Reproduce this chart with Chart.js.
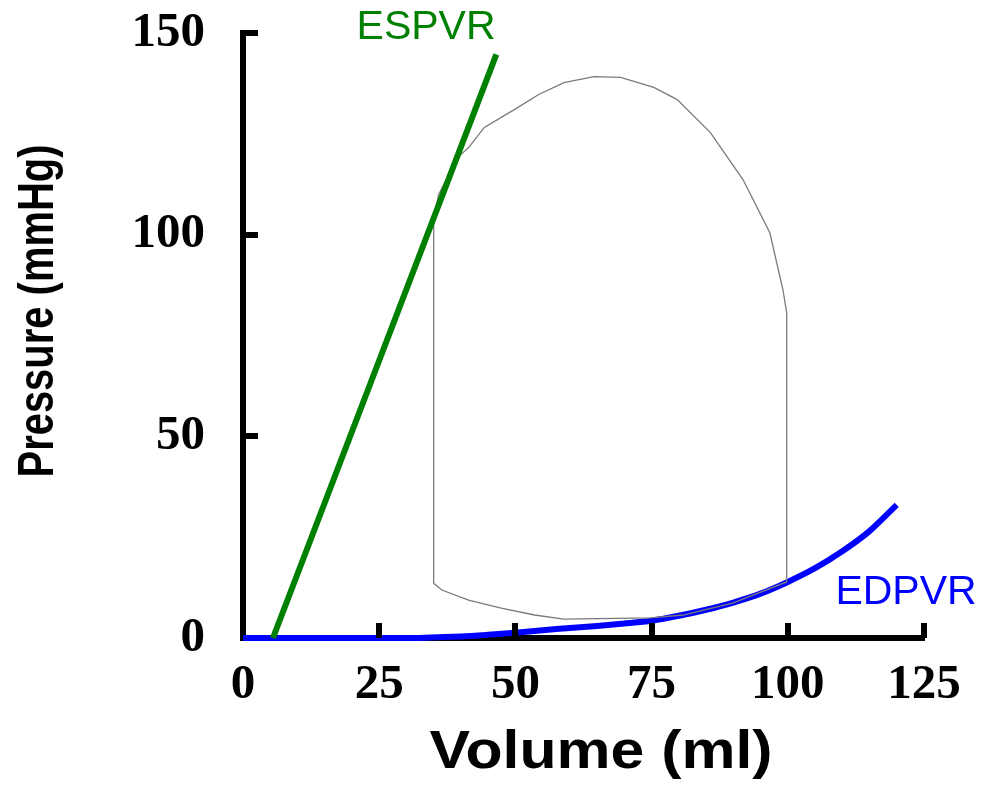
<!DOCTYPE html>
<html>
<head>
<meta charset="utf-8">
<script src="https://cdn.jsdelivr.net/npm/chart.js@4/dist/chart.umd.min.js"></script>
<style>
  html, body { margin: 0; padding: 0; background: #ffffff; }
  #wrap { width: 982px; height: 804px; }
</style>
</head>
<body>
<div id="wrap"><canvas id="c" width="982" height="804"></canvas></div>
<script>
// ---- data ----
const xTickValues = [0, 25, 50, 75, 100, 125];
const yTickValues = [0, 50, 100, 150];

const espvrVolume   = [5.5, 46.5];
const espvrPressure = [0, 144.7];

const edpvrVolume   = [0, 10, 20, 30, 40, 45, 50, 55, 60, 65, 70, 75, 80, 85, 90, 95, 100, 105, 110, 115, 120];
const edpvrPressure = [0, 0, 0, 0, 0.4, 0.8, 1.3, 1.9, 2.5, 3.0, 3.6, 4.3, 5.5, 7.0, 8.8, 11.0, 13.9, 17.3, 21.5, 26.5, 33.0];

const loopVolume   = [35.0, 35.0, 35.9, 37.8, 39.8, 41.4, 44.3, 49.8, 54.2, 58.9, 64.4, 69.3, 75.4, 79.7, 85.8, 91.8, 96.7, 99.1, 99.8, 99.8, 90.0, 80.8, 74.8, 58.9, 53.5, 47.4, 41.4, 36.5, 35.0];
const loopPressure = [13.6, 104.0, 109.9, 114.9, 119.6, 121.6, 126.6, 131.0, 134.7, 137.7, 139.2, 139.0, 136.5, 133.5, 125.3, 113.6, 100.5, 86.4, 80.6, 13.9, 8.7, 5.7, 5.0, 4.7, 5.7, 7.4, 9.4, 11.9, 13.6];

const xTitle = 'Volume (ml)';
const yTitle = 'Pressure (mmHg)';
const espvrLabel = 'ESPVR';
const edpvrLabel = 'EDPVR';

function pts(xs, ys) { return xs.map((x, i) => ({ x: x, y: ys[i] })); }

// ---- decoration plugin: inward tick marks, axis titles, curve labels ----
const decor = {
  id: 'decor',
  afterDatasetsDraw(chart) {
    const ctx = chart.ctx;
    const xs = chart.scales.x, ys = chart.scales.y;
    const area = chart.chartArea;
    ctx.save();
    ctx.fillStyle = '#000';
    // inward ticks
    xTickValues.forEach(v => {
      if (v === 0) return;
      const px = xs.getPixelForValue(v);
      ctx.fillRect(Math.round(px) - 3, area.bottom - 15, 6, 15);
    });
    yTickValues.forEach(v => {
      if (v === 0) return;
      const py = ys.getPixelForValue(v);
      ctx.fillRect(area.left, Math.round(py) - 3, 15, 6);
    });

    // curve labels
    ctx.textAlign = 'center';
    ctx.textBaseline = 'middle';
    ctx.font = '41px "Liberation Sans", Arial, sans-serif';
    ctx.fillStyle = '#008000';
    ctx.fillText(espvrLabel, xs.getPixelForValue(33.6), ys.getPixelForValue(151.4));
    ctx.fillStyle = '#0000ff';
    ctx.fillText(edpvrLabel, xs.getPixelForValue(121.7), ys.getPixelForValue(11.2));

    // x axis title
    ctx.fillStyle = '#000';
    ctx.font = 'bold 53px "Liberation Sans", Arial, sans-serif';
    ctx.textBaseline = 'alphabetic';
    let w = ctx.measureText(xTitle).width;
    ctx.save();
    ctx.translate(601, 768);
    ctx.scale(343 / w, 1);
    ctx.fillText(xTitle, 0, 0);
    ctx.restore();

    // y axis title
    ctx.font = 'bold 50px "Liberation Sans", Arial, sans-serif';
    w = ctx.measureText(yTitle).width;
    ctx.save();
    ctx.translate(53, 311);
    ctx.rotate(-Math.PI / 2);
    ctx.scale(333 / w, 1);
    ctx.fillText(yTitle, 0, 0);
    ctx.restore();

    ctx.restore();
  }
};

const tickFont = { family: '"Liberation Serif", "Times New Roman", serif', size: 49, weight: 'bold' };

new Chart(document.getElementById('c'), {
  type: 'scatter',
  data: {
    datasets: [
      {
        label: espvrLabel,
        data: pts(espvrVolume, espvrPressure),
        showLine: true, borderColor: '#008000', borderWidth: 6,
        pointRadius: 0, fill: false, clip: false, order: 0
      },
      {
        label: 'PV loop',
        data: pts(loopVolume, loopPressure),
        showLine: true, borderColor: '#7a7a7a', borderWidth: 1.3,
        pointRadius: 0, fill: false, clip: false, order: 1, tension: 0
      },
      {
        label: edpvrLabel,
        data: pts(edpvrVolume, edpvrPressure),
        showLine: true, borderColor: '#0000ff', borderWidth: 6,
        pointRadius: 0, fill: false, clip: false, order: 2, tension: 0.3
      }
    ]
  },
  options: {
    responsive: false,
    animation: false,
    devicePixelRatio: 1,
    layout: { padding: { left: 0, right: 58, top: 33, bottom: 0 } },
    plugins: { legend: { display: false }, tooltip: { enabled: false } },
    scales: {
      x: {
        type: 'linear', min: 0, max: 125,
        afterFit(s) { s.height = 166; s.paddingLeft = 0; s.paddingRight = 0; s.paddingTop = 0; s.paddingBottom = 0; },
        afterBuildTicks(s) { s.ticks = xTickValues.map(v => ({ value: v })); },
        grid: { display: false, drawTicks: false },
        border: { display: true, color: '#000', width: 6 },
        ticks: { color: '#000', font: tickFont, padding: 18, maxRotation: 0, autoSkip: false }
      },
      y: {
        type: 'linear', min: 0, max: 150,
        afterFit(s) { s.width = 243; s.paddingLeft = 0; s.paddingRight = 0; s.paddingTop = 0; s.paddingBottom = 0; },
        afterBuildTicks(s) { s.ticks = yTickValues.map(v => ({ value: v })); },
        grid: { display: false, drawTicks: false },
        border: { display: true, color: '#000', width: 6 },
        ticks: { color: '#000', font: tickFont, padding: 38, autoSkip: false }
      }
    }
  },
  plugins: [decor]
});
</script>
</body>
</html>
